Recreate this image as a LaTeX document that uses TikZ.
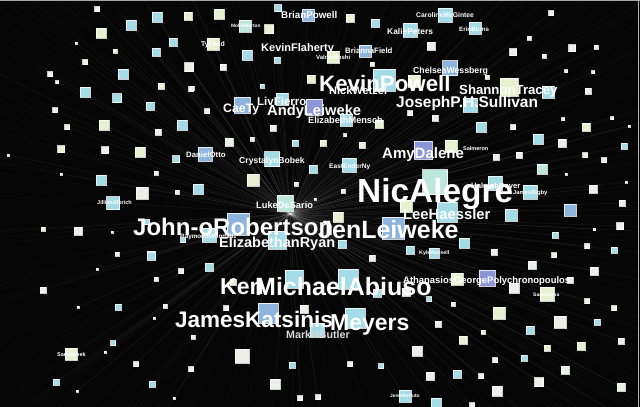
\documentclass[tikz,border=0pt]{standalone}
\usepackage{fontspec}
\setmainfont{Liberation Sans}
\usetikzlibrary{calc}
\pgfdeclarelayer{back}
\pgfdeclarelayer{rays}
\pgfsetlayers{back,rays,main}
\definecolor{W}{HTML}{ECEEE8}
\definecolor{Y}{HTML}{E9F0D2}
\definecolor{C}{HTML}{A3DBE6}
\definecolor{G}{HTML}{BDE6DC}
\definecolor{B}{HTML}{8CB4DC}
\definecolor{P}{HTML}{8A96D8}
\definecolor{bgc}{HTML}{060606}
\begin{document}
\begin{tikzpicture}[x=1pt,y=-1pt,
  sq/.style={rectangle, inner sep=0pt, minimum size=#1, draw=white, draw opacity=0.8, line width=0.5pt},
  ray/.style={draw=white, opacity=0.11, line width=0.3pt},
  rayext/.style={draw=white, opacity=0.06, line width=0.3pt},
  lbl/.style={text=white, inner sep=0pt, anchor=base west, font=\bfseries\fontsize{#1}{#1}\selectfont},
  dim/.style={text=white!85!black}]
\useasboundingbox (0,0) rectangle (640,407);
\begin{pgfonlayer}{back}
  \fill[bgc] (0,0) rectangle (640,407);
  \draw[gray!70, line width=1.2pt] (0,0.6) -- (640,0.6);
  \draw[gray!60, line width=1pt] (638.5,0) -- (638.5,407);
\end{pgfonlayer}
\coordinate (c) at (290,214);
\foreach [count=\i] \x/\y/\s/\col in {
 97/9/5/W, 157/17/10/C, 188/16/8/Y, 131/25/10/C, 101/33/10/Y, 173/42/8/C, 115/51/4/W, 156/52/8/C,
 85/62/5/W, 189/67/9/W, 123/74/10/C, 50/74/5/W, 57/82/3/W, 161/86/6/Y, 191/89/5/W, 85/92/10/C,
 117/98/9/C, 150/106/8/C, 55/110/5/W, 67/127/5/W, 104/125/10/Y, 182/125/10/C, 76/43/2/W,
 219/14/10/Y, 245/26/12/G, 269/29/9/Y, 278/8/7/C, 308/15/12/B, 350/18/8/Y, 375/23/8/C,
 213/44/12/Y, 247/55/10/C, 277/60/6/C, 223/67/6/W, 333/57/12/Y, 365/51/12/B, 372/64/4/W,
 311/79/8/Y, 262/86/4/C, 192/88/4/W, 242/105/16/B, 282/99/12/C, 314/107/16/P, 207/111/5/W,
 346/120/12/C, 273/128/6/W,
 445/15/14/C, 410/30/14/C, 475/28/12/C, 551/13/5/W, 431/46/8/W, 529/38/4/W, 513/52/7/W, 544/56/4/W,
 572/48/7/W, 596/47/4/W, 450/68/15/B, 487/77/4/W, 414/81/12/Y, 384/80/22/C, 509/87/18/Y, 548/92/12/C,
 588/91/6/W, 593/72/3/W, 566/71/3/W, 470/105/14/C, 410/113/5/W, 435/118/6/W, 563/119/3/W, 513/127/5/W,
 586/127/8/Y, 481/127/10/C, 538/139/10/C, 379/124/8/Y, 612/118/3/W, 629/126/2/W,
 158/132/6/W, 61/149/7/Y, 105/150/7/W, 140/152/10/Y, 176/159/7/C, 205/154/14/B, 229/142/8/W,
 252/139/4/W, 295/143/6/C, 272/159/15/C, 313/169/8/C, 8/155/2/W, 61/174/2/W, 156/173/4/W,
 253/180/12/Y, 296/184/4/W, 101/180/10/C, 142/193/12/W, 177/192/4/W, 198/189/10/C, 113/203/13/C,
 285/203/16/G, 315/199/2/W, 43/229/4/W, 78/231/8/W, 112/232/2/W, 147/222/5/C, 238/224/22/B,
 183/240/5/C, 209/235/14/C, 277/240/18/C, 151/255/8/C,
 323/143/6/Y, 345/135/3/W, 362/145/6/Y, 423/150/18/P, 451/146/12/Y, 562/143/8/W, 624/146/6/C,
 496/157/6/W, 519/155/6/W, 585/155/5/W, 604/160/5/W, 542/169/10/G, 349/165/14/C, 566/174/2/W,
 626/182/2/W, 495/183/14/C, 530/192/14/C, 593/189/8/W, 622/203/6/W, 343/191/4/W, 406/206/12/Y,
 447/212/20/C, 511/215/12/C, 570/210/12/B, 338/217/10/Y, 620/226/7/W, 594/229/2/W, 555/235/6/C,
 464/243/10/C, 342/244/8/C, 494/252/6/W, 587/246/5/W, 614/250/6/C, 434/253/10/C, 410/250/8/C,
 372/258/6/W, 435/182/25/G, 393/228/22/B,
 532/265/8/W, 554/255/5/W, 594/271/8/W, 348/279/20/C, 377/293/8/C, 406/292/8/W, 457/279/12/Y,
 487/278/16/P, 514/288/10/W, 547/294/14/Y, 570/280/6/W, 429/299/5/C, 453/304/4/W, 499/313/12/Y,
 587/301/5/W, 614/308/5/W, 355/318/20/C, 438/324/6/W, 560/322/12/W, 530/330/8/C, 597/322/6/C,
 483/332/4/W, 463/340/8/Y, 417/351/10/W, 547/348/6/Y, 581/346/8/Y, 621/341/6/W, 495/360/5/W,
 524/358/6/C, 350/364/5/W, 381/366/5/C, 565/370/8/W, 430/376/8/W, 457/374/8/C, 481/376/5/W,
 539/382/9/W, 497/391/10/W, 621/387/8/W, 405/396/12/C, 436/403/10/C, 472/405/5/W, 594/229/2/W,
 117/254/4/W, 151/256/8/C, 209/267/8/C, 181/271/5/W, 97/269/2/W, 156/279/4/W, 43/290/6/W,
 294/279/18/C, 233/282/6/Y, 118/307/6/C, 165/306/4/W, 226/308/5/W, 268/313/20/B, 304/309/8/W,
 193/337/4/W, 113/343/5/C, 317/330/14/C, 71/354/12/Y, 242/356/14/W, 136/364/5/W, 191/369/5/W,
 292/365/6/C, 56/382/6/C, 152/384/6/C, 275/384/10/W, 300/398/5/W, 318/397/5/W, 78/307/2/W,
 105/352/2/W, 77/391/2/W, 154/318/2/W, 174/398/2/W}
{
  \node[sq=\s pt, fill=\col] (s\i) at (\x,\y) {};
  \begin{pgfonlayer}{rays}
    \draw[ray] (c) -- (s\i);
    \draw[rayext] (s\i) -- ($(c)!700pt!(s\i)$);
  \end{pgfonlayer}
}
% small labels
\node[lbl=6.8] (t1) at (416,17) {CarolineMcGintee};
\node[lbl=6.2] (t2) at (459,31) {ErinBurns};
\node[lbl=8.4] (t3) at (387,34) {KaliePeters};
\node[lbl=9.8] (t4) at (281,18) {BrianPowell};
\node[lbl=6.9] (t5) at (201,46) {TyField};
\node[lbl=4.8] (t6) at (231,27) {MollieHorton};
\node[lbl=7.8] (t7) at (345,53) {BriannaField};
\node[lbl=6] (t8) at (316,59) {ValdeiRoshi};
\node[lbl=11] (t9) at (261,51) {KevinFlaherty};
\node[lbl=8.7] (t10) at (413,73) {ChelseaWessberg};
\node[lbl=11] (t11) at (329,94) {NickWetzel};
\node[lbl=11.5] (t12) at (257,105) {LivFierro};
\node[lbl=12.3] (t13) at (223,112) {CaeTy};
\node[lbl=14.7] (t14) at (267,115) {AndyLeiweke};
\node[lbl=9.2] (t15) at (308,123) {ElizabethMensch};
\node[lbl=13.2] (t16) at (459,94) {ShannonTracey};
\node[lbl=15.5] (t17) at (396,107) {JosephP.H.Sullivan};
\node[lbl=7.8] (t18) at (186,157) {DanielOtto};
\node[lbl=8.6] (t19) at (239,163) {CrystalynBobek};
\node[lbl=6.6] (t20) at (329,168) {EastEnderNy};
\node[lbl=5.5] (t21) at (463,150) {Salmeron};
\node[lbl=15] (t22) at (382,158) {AmyDalene};
\node[lbl=7.7] (t23) at (471,188) {HaleighDeyer};
\node[lbl=5.8] (t24) at (513,194) {JamesRigby};
\node[lbl=5.5] (t25) at (97,204) {JillianAlbrich};
\node[lbl=9.3] (t26) at (256,208) {LukeDeSario};
\node[lbl=6.3] (t27) at (180,238) {RaymondWoodall};
\node[lbl=14.5] (t28) at (219,247) {ElizabethanRyan};
\node[lbl=5.3] (t29) at (419,254) {KyleRussell};
\node[lbl=9.45] (t30) at (403,283) {AthanasiosGeorgePolychronopoulos};
\node[lbl=5] (t31) at (533,296) {SaraRucha};
\node[lbl=10.7, dim] (t32) at (286,338) {MarkHButler};
\node[lbl=5.5] (t33) at (57,356) {SamBobek};
\node[lbl=4.8] (t34) at (390,397) {JenniferPuto};
% big labels
\node[lbl=14.8] (t35) at (403,219) {LeeHaessler};
\node[lbl=22.3] (t36) at (319,91) {KevinPowell};
\node[lbl=25] (t37) at (318,238) {JenLeiweke};
\node[lbl=24] (t38) at (133,235) {John-oRobertson};
\node[lbl=33.4] (t39) at (357,202) {NicAlegre};
\node[lbl=23] (t40) at (220,294) {Ken};
\node[lbl=25] (t41) at (255,295) {MichaelAbiuso};
\node[lbl=23] (t42) at (330,330) {Meyers};
\node[lbl=22.5] (t43) at (175,327) {JamesKatsinis};
\end{tikzpicture}
\end{document}
